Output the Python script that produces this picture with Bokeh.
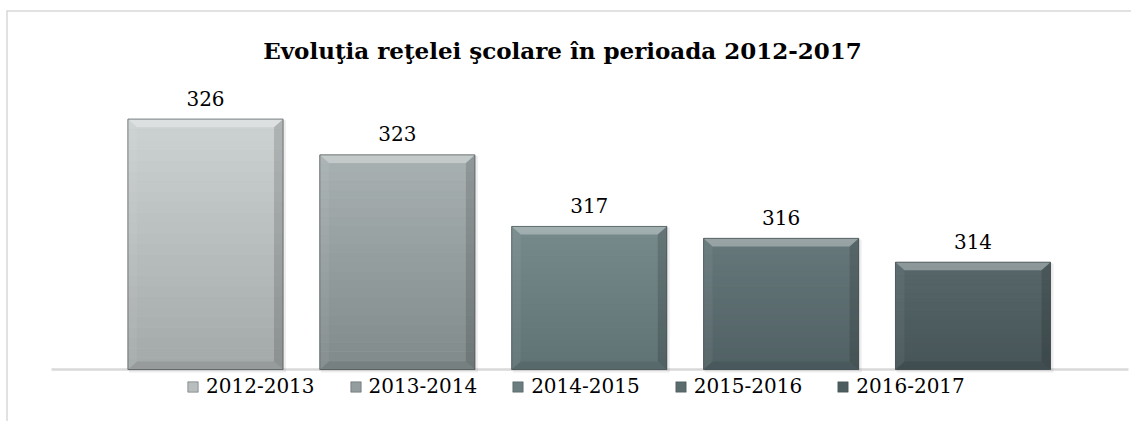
import numpy as np
from bokeh.plotting import figure
from bokeh.models import ColumnDataSource, Range1d, Legend, LegendItem, Label
from bokeh.core.properties import value
from bokeh.embed import file_html
from bokeh.resources import INLINE

# ---- data ----
years = ["2012-2013", "2013-2014", "2014-2015", "2015-2016", "2016-2017"]
schools = [326, 323, 317, 316, 314]
title_text = "Evoluţia reţelei şcolare în perioada 2012-2017"

# ---- style ----
top_colors = ["#cdd2d3", "#a9b1b2", "#76898b", "#66787b", "#57676a"]
bottom_colors = ["#a3a8a8", "#808a8b", "#5f7274", "#506063", "#465457"]
face_colors = ["#b8bdbe", "#949d9e", "#6a7e80", "#5b6c6f", "#4e5d60"]
FONT = "DejaVu Serif"
W, H = 1131, 421
BASE = 305
PX_X = 191.875          # pixels per category
PX_Y = 11.92            # pixels per unit of value
X0 = -205 / PX_X
X1 = (W - 205) / PX_X
Y1 = BASE + 369 / PX_Y
Y0 = BASE - (H - 369) / PX_Y
BAR_W = 0.808

p = figure(width=W, height=H, output_backend="svg", toolbar_location=None,
           x_range=Range1d(X0, X1), y_range=Range1d(Y0, Y1),
           x_axis_location=None, y_axis_location=None, min_border=0)
p.grid.visible = False
p.outline_line_color = None
p.background_fill_color = "white"
p.border_fill_color = "white"

xs = list(range(len(years)))

def sx(px):
    return X0 + px / PX_X

def sy(py):
    return Y1 - py / PX_Y

# chart-area border (top and left)
p.segment(x0=[sx(6), sx(6.5)], y0=[sy(10.5), sy(10)], x1=[X1, sx(6.5)], y1=[sy(10.5), Y0],
          line_color="#d9d9d9", line_width=1.5)

# category axis line
p.segment(x0=[sx(51)], y0=[BASE], x1=[sx(1128)], y1=[BASE],
          line_color="#d9d9d9", line_width=2.5)

# shadow
p.quad(left=[x - BAR_W / 2 + 1 / PX_X for x in xs],
       right=[x + BAR_W / 2 + 3 / PX_X for x in xs],
       bottom=[BASE - 3 / PX_Y] * len(xs), top=[v - 1 / PX_Y for v in schools],
       fill_color="black", fill_alpha=0.07, line_color=None)

src = ColumnDataSource(dict(x=xs, top=schools, year=years, color=face_colors))
bars = p.vbar(x="x", top="top", bottom=BASE, width=BAR_W, source=src,
              fill_color="color", line_color="#3a4446", line_alpha=0.45, line_width=1)

# vertical gradient bands
def hex2rgb(h):
    h = h.lstrip("#")
    return np.array([int(h[i:i + 2], 16) for i in (0, 2, 4)], dtype=float)

def rgb2hex(c):
    return "#%02x%02x%02x" % tuple(int(round(v)) for v in c)

NB = 24
bl, br, bb, bt, bc = [], [], [], [], []
for i, (x, v) in enumerate(zip(xs, schools)):
    ct, cb = hex2rgb(top_colors[i]), hex2rgb(bottom_colors[i])
    edges = np.linspace(BASE, v, NB + 1)
    for k in range(NB):
        f = (k + 0.5) / NB
        bl.append(x - BAR_W / 2)
        br.append(x + BAR_W / 2)
        bb.append(edges[k])
        bt.append(edges[k + 1] + 0.02)
        bc.append(rgb2hex(cb + (ct - cb) * f))
p.quad(left=bl, right=br, bottom=bb, top=bt, fill_color=bc, line_color=None)

# bevels
bx = 9 / PX_X
by = 8 / PX_Y
top_x, top_y, left_x, left_y, right_x, right_y, bot_x, bot_y = ([] for _ in range(8))
for x, v in zip(xs, schools):
    l, r, t, b = x - BAR_W / 2, x + BAR_W / 2, v, BASE
    top_x.append([l, r, r - bx, l + bx]); top_y.append([t, t, t - by, t - by])
    left_x.append([l, l + bx, l + bx, l]); left_y.append([t, t - by, b + by, b])
    right_x.append([r, r - bx, r - bx, r]); right_y.append([t, t - by, b + by, b])
    bot_x.append([l, l + bx, r - bx, r]); bot_y.append([b, b + by, b + by, b])
p.patches(top_x, top_y, fill_color="white", fill_alpha=0.32, line_color=None)
p.patches(left_x, left_y, fill_color="white", fill_alpha=0.05, line_color=None)
p.patches(right_x, right_y, fill_color="black", fill_alpha=0.14, line_color=None)
p.patches(bot_x, bot_y, fill_color="black", fill_alpha=0.08, line_color=None)

# outline
p.vbar(x=xs, top=schools, bottom=BASE, width=BAR_W, fill_color=None,
       line_color="#3a4446", line_alpha=0.5, line_width=1)

# data labels
p.text(x=xs, y=schools, text=[str(v) for v in schools], y_offset=-21,
       text_align="center", text_baseline="middle",
       text_font=value(FONT), text_font_size="20px", text_color="black")

# title
p.add_layout(Label(x=562, y=H - 50, x_units="screen", y_units="screen",
                   text=title_text, text_align="center", text_baseline="middle",
                   text_font=FONT, text_font_style="bold", text_font_size="23px",
                   text_color="black"))

# legend
legend = Legend(items=[LegendItem(label=y, renderers=[bars], index=i)
                       for i, y in enumerate(years)],
                orientation="horizontal", location=(186, H - 398),
                glyph_width=13, glyph_height=13, label_standoff=7, spacing=34,
                padding=0, margin=0, border_line_color=None,
                background_fill_alpha=0, label_text_font=FONT,
                label_text_font_size="20px", label_text_color="black",
                label_height=20)
p.add_layout(legend, "center")

open("out.html", "w").write(file_html(p, INLINE))
